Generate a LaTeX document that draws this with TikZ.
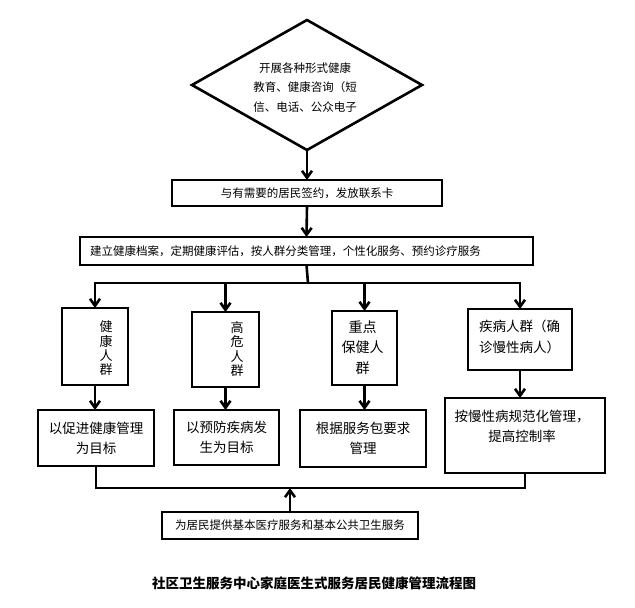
\documentclass[tikz,border=0pt]{standalone}
\usepackage{fontspec}
\newfontfamily\cjk{Noto Sans CJK SC}
\usetikzlibrary{arrows.meta,shapes.geometric}
\begin{document}
\begin{tikzpicture}[x=1pt,y=-1pt,
  line width=2.6pt,
  box/.style={draw, rectangle, inner sep=0pt, outer sep=0pt, align=center, font=\cjk\fontsize{13.5}{20}\selectfont},
  smallbox/.style={box, font=\cjk\fontsize{11.5}{14}\selectfont},
  txt/.style={inner sep=0pt, align=center, font=\cjk\fontsize{13.5}{20}\selectfont},
  vtxt/.style={inner sep=0pt, align=center, font=\cjk\fontsize{13}{14.3}\selectfont},
  arr/.style={-{Straight Barb[length=7pt,width=10pt]}},
]
\useasboundingbox (0,0) rectangle (635,608);

% diamond
\node[diamond, draw, minimum width=230pt, minimum height=130pt, inner sep=0pt, outer sep=0pt] (dia) at (307,85) {};
\node[txt, font=\cjk\fontsize{11.5}{19.5}\selectfont] (diat) at (305,87.5) {开展各种形式健康\\教育、健康咨询（短\\信、电话、公众电子};

% top boxes
\node[smallbox, minimum width=270pt, minimum height=26pt] (b1) at (307,193) {与有需要的居民签约，发放联系卡};
\node[smallbox, text width=433pt, inner xsep=10pt, minimum height=28pt, align=left] (b2) at (306.5,251) {建立健康档案，定期健康评估，按人群分类管理，个性化服务、预约诊疗服务};

\draw[arr] (dia.south) -- (b1.north);
\draw[arr] (b1.south) -- (b2.north);

% group boxes
\node[box, minimum width=66pt, minimum height=77pt] (A) at (95,346.5) {};
\node[vtxt] (At) at (106,348.5) {健\\康\\人\\群};
\node[box, minimum width=67pt, minimum height=75pt] (B) at (225.5,349.5) {};
\node[vtxt] (Bt) at (237,349) {高\\危\\人\\群};
\node[box, minimum width=65pt, minimum height=74pt] (C) at (364.5,348) {};
\node[txt, font=\cjk\fontsize{14}{20.5}\selectfont] (Ct) at (362.5,347.5) {重点\\保健人\\群};
\node[box, minimum width=104pt, minimum height=61pt] (D) at (520,339.5) {};
\node[txt, font=\cjk\fontsize{13.5}{21}\selectfont, align=left] (Dt) at (519.5,336.5) {疾病人群（确\\诊慢性病人）};

\coordinate (j1) at (308,283);
\draw (b2.south) -- (j1);
\draw[arr] (j1) -| (A.north);
\draw[arr] (j1) -| (D.north);
\draw[arr] (B.north |- j1) -- (B.north);
\draw[arr] (C.north |- j1) -- (C.north);

% goal boxes
\node[box, minimum width=116pt, minimum height=56pt] (A2) at (96,438) {以促进健康管理\\为目标};
\node[box, minimum width=105pt, minimum height=55pt] (B2) at (226.5,437.5) {以预防疾病发\\生为目标};
\node[box, minimum width=126pt, minimum height=57pt] (C2) at (363,438.5) {根据服务包要求\\管理};
\node[box, minimum width=160pt, minimum height=75pt] (D2) at (525,435.5) {};
\node[txt] (D2t) at (522,426) {按慢性病规范化管理，\\提高控制率};

\draw[arr] (A.south) -- (A.south |- A2.north);
\draw[arr] (B.south) -- (B.south |- B2.north);
\draw[arr] (C.south) -- (C.south |- C2.north);
\draw[arr] (D.south) -- (D.south |- D2.north);

% bottom
\node[smallbox, minimum width=256pt, minimum height=27pt] (bot) at (290,525.5) {为居民提供基本医疗服务和基本公共卫生服务};
\coordinate (j2) at (290,488);
\draw (A2.south) -- (A2.south |- j2) -- (D2.south |- j2) -- (D2.south);
\draw[arr] (bot.north) -- (j2);

\node[inner sep=0pt, font=\cjk\bfseries\fontsize{13.5}{16}\selectfont] (cap) at (314,583) {社区卫生服务中心家庭医生式服务居民健康管理流程图};
\end{tikzpicture}
\end{document}
